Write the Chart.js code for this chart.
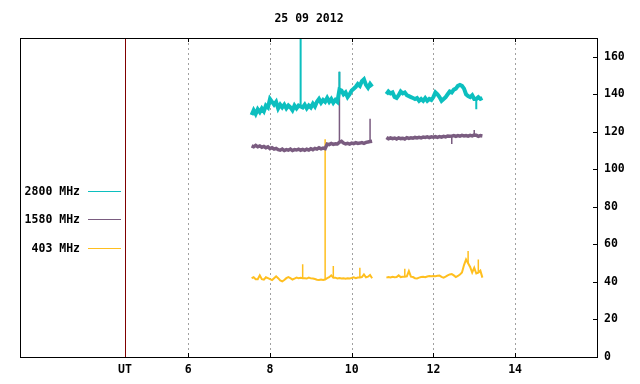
<!DOCTYPE html>
<html lang="en">
<head>
  <meta charset="UTF-8" />
  <title>25 09 2012</title>
  <style>
    body { margin: 0; background: #fff; }
    #chart { display: block; }
  </style>
</head>
<body>
  <canvas id="chart" width="640" height="384"></canvas>

  <script src="https://cdn.jsdelivr.net/npm/chart.js"></script>
  <script>
    // UT hours of the two observing runs
    const hours1 = [7.55, 7.6, 7.65, 7.7, 7.75, 7.8, 7.85, 7.9, 7.95, 8.0,
      8.05, 8.1, 8.15, 8.2, 8.25, 8.3, 8.35, 8.4, 8.45, 8.5,
      8.55, 8.6, 8.65, 8.7, 8.75, 8.8, 8.85, 8.9, 8.95, 9.0,
      9.05, 9.1, 9.15, 9.2, 9.25, 9.3, 9.35, 9.4, 9.45, 9.5,
      9.55, 9.6, 9.65, 9.7, 9.75, 9.8, 9.85, 9.9, 9.95, 10.0,
      10.05, 10.1, 10.15, 10.2, 10.25, 10.3, 10.35, 10.4, 10.45, 10.5];
    const hours2 = [10.85, 10.9, 10.95, 11.0,
      11.05, 11.1, 11.15, 11.2, 11.25, 11.3, 11.35, 11.4, 11.45, 11.5,
      11.55, 11.6, 11.65, 11.7, 11.75, 11.8, 11.85, 11.9, 11.95, 12.0,
      12.05, 12.1, 12.15, 12.2, 12.25, 12.3, 12.35, 12.4, 12.45, 12.5,
      12.55, 12.6, 12.65, 12.7, 12.75, 12.8, 12.85, 12.9, 12.95, 13.0,
      13.05, 13.1, 13.15, 13.2];
    const gapHour = 10.7;

    // 2800 MHz
    const f2800a = [129, 131.5, 129.5, 132, 130.5, 132.5, 131, 134, 133, 137.5,
      136, 134.5, 136, 132.5, 134.5, 133, 134.5, 132.5, 134, 133,
      131.5, 134, 132.5, 134, 133.5, 133, 134.5, 132.5, 134, 133,
      135, 133.5, 136, 137.5, 135.5, 137, 136, 138, 136, 137.5,
      135.5, 137, 136, 142.5, 142, 140, 141, 138.5, 140, 142,
      143, 144, 145.5, 144.5, 147, 148, 145, 143.5, 145.5, 144];
    const f2800b = [140, 141.5, 140.5, 141,
      138.5, 138, 139.5, 141.5, 140.5, 141, 139.5, 139, 138.5, 138,
      137.5, 138, 136.5, 137.5, 136.5, 138, 136.5, 137.5, 137, 138.5,
      141, 140, 138.5, 136.5, 137.5, 138.5, 140, 141.5, 141, 142.5,
      143, 144.5, 145, 144.5, 143, 140, 139, 138.5, 139.5, 137.5,
      137.5, 138.5, 137.5, 138];
    const spikeHours2800 = [8.75, 9.7, 13.05];
    const spikeTops2800 = [200, 152, 132];

    // 1580 MHz
    const f1580a = [112.5, 112, 112.8, 112, 112.5, 111.8, 112.2, 111.5, 112, 111,
      111.5, 110.8, 111.2, 110.5, 110.2, 110.8, 110, 110.5, 110.2, 110.8,
      110, 110.5, 110.3, 110.8, 110.2, 110.6, 110.1, 110.7, 110.3, 111,
      110.5, 111.2, 110.8, 111.5, 110.9, 111.3, 111, 113.5, 113.2, 113.8,
      113.3, 113.6, 113.5, 114.5, 115, 114, 113.6, 113.9, 113.5, 114,
      113.7, 114.2, 113.8, 114, 114.3, 113.9, 114.4, 114.6, 114.8, 115];
    const f1580b = [117, 116.3, 116.8, 116.4,
      116.7, 116.2, 116.8, 116.4, 116.6, 116.2, 116.9, 116.5, 116.8, 116.6,
      117, 116.7, 117.1, 116.8, 117.2, 117, 117.3, 116.9, 117.3, 117.1,
      117.4, 117, 117.5, 117.2, 117.6, 117.3, 117.8, 117.6, 117.7, 118,
      117.6, 118, 117.7, 118.1, 117.8, 118, 117.7, 118.1, 117.8, 118.3,
      118.2, 117.6, 118, 117.8];
    const spikeHours1580 = [9.7, 10.45, 12.45, 13.0];
    const spikeTops1580 = [152, 127, 113.5, 121];

    // 403 MHz
    const f403a = [42, 42.5, 41.5, 41.5, 43.5, 41.5, 41.2, 42.5, 42, 41.5,
      41, 42, 43, 42, 40.8, 40.3, 41, 42, 42.6, 42,
      41.3, 41.8, 42.3, 42, 42.2, 42, 42, 41.8, 42.3, 41.9,
      41.8, 41.6, 41.2, 41.1, 41.3, 41.1, 41.3, 42, 42.5, 43.5,
      42.3, 42.3, 41.9, 42.1, 41.8, 42, 41.7, 42, 41.8, 42.1,
      42.5, 42, 42.4, 42.4, 42.6, 44, 42.5, 42.8, 43.7, 42];
    const f403b = [42.3, 42.6, 42.4, 42.7,
      42.5, 42.6, 43.5, 42.6, 42.8, 42.8, 43, 45.8, 42.8, 42.6,
      42, 41.9, 42.3, 42.6, 42.8, 42.5, 42.9, 43.1, 43, 43.2,
      43, 43.3, 43.4, 42.7, 42.3, 42.8, 43.5, 44, 44.2, 43.5,
      42.6, 43.2, 44, 45, 49, 52, 50, 48, 45, 47.6,
      44.5, 45, 46, 42.3];
    const spikeHours403 = [8.8, 9.35, 9.55, 10.2, 11.3, 12.85, 13.1];
    const spikeTops403 = [49.4, 116, 48.5, 47.6, 47, 56.5, 52];

    const xTicks = [6, 8, 10, 12, 14];
    const yTicks = [0, 20, 40, 60, 80, 100, 120, 140, 160];
    const utHour = 4.45;

    const FONT = 'bold 11.5px "DejaVu Sans Mono", monospace';

    function toPoints(va, vb) {
      return hours1.map((h, i) => ({ x: h, y: va[i] }))
        .concat([{ x: gapHour, y: null }])
        .concat(hours2.map((h, i) => ({ x: h, y: vb[i] })));
    }

    // vertical spikes rising (or dipping) from the band value at that hour
    function toSpikes(points, hours, tops) {
      const out = [];
      hours.forEach((h, i) => {
        const base = points.find(p => Math.abs(p.x - h) < 1e-6).y;
        out.push({ x: h, y: base }, { x: h, y: tops[i] }, { x: h, y: null });
      });
      return out;
    }

    const series = [
      { label: '2800 MHz', color: '#0cbfbf', width: 4, spikeWidth: 2, values: [f2800a, f2800b], spikes: [spikeHours2800, spikeTops2800] },
      { label: '1580 MHz', color: '#7a5c80', width: 3.5, spikeWidth: 1.5, values: [f1580a, f1580b], spikes: [spikeHours1580, spikeTops1580] },
      { label: '403 MHz', color: '#ffbf1f', width: 2, spikeWidth: 1.5, values: [f403a, f403b], spikes: [spikeHours403, spikeTops403] }
    ];

    const datasets = [];
    series.forEach(s => {
      const pts = toPoints(s.values[0], s.values[1]);
      datasets.push({ data: pts, borderColor: s.color, borderWidth: s.width, pointRadius: 0, spanGaps: false });
      datasets.push({ data: toSpikes(pts, s.spikes[0], s.spikes[1]), borderColor: s.color, borderWidth: s.spikeWidth, pointRadius: 0, spanGaps: false });
    });

    // gnuplot-like frame, grid, title and key
    const frame = {
      id: 'frame',
      beforeDatasetsDraw(chart) {
        const { ctx, chartArea: a, scales: { x } } = chart;
        ctx.save();
        ctx.lineWidth = 1;
        ctx.strokeStyle = '#a0a0a0';
        ctx.setLineDash([2, 3]);
        xTicks.forEach(h => {
          const px = Math.round(x.getPixelForValue(h)) + 0.5;
          ctx.beginPath(); ctx.moveTo(px, a.top); ctx.lineTo(px, a.bottom); ctx.stroke();
        });
        ctx.setLineDash([]);
        ctx.strokeStyle = '#800000';
        const ut = Math.round(x.getPixelForValue(utHour)) + 0.5;
        ctx.beginPath(); ctx.moveTo(ut, a.top); ctx.lineTo(ut, a.bottom); ctx.stroke();
        ctx.restore();
      },
      afterDatasetsDraw(chart) {
        const { ctx, chartArea: a, scales: { x, y } } = chart;
        ctx.save();
        ctx.lineWidth = 1;
        ctx.strokeStyle = '#000';
        ctx.strokeRect(a.left + 0.5, a.top + 0.5, a.right - a.left - 1, a.bottom - a.top);
        ctx.beginPath();
        xTicks.forEach(h => {
          const px = Math.round(x.getPixelForValue(h)) + 0.5;
          ctx.moveTo(px, a.bottom); ctx.lineTo(px, a.bottom - 4);
          ctx.moveTo(px, a.top); ctx.lineTo(px, a.top + 4);
        });
        yTicks.forEach(v => {
          const py = Math.round(y.getPixelForValue(v)) + 0.5;
          ctx.moveTo(a.right, py); ctx.lineTo(a.right - 5, py);
        });
        ctx.stroke();

        ctx.font = FONT;
        ctx.fillStyle = '#000';
        ctx.textAlign = 'center';
        ctx.textBaseline = 'middle';
        ctx.fillText('25 09 2012', (a.left + a.right) / 2, 19);

        const keyY = [191, 219, 248];
        series.forEach((s, i) => {
          ctx.textAlign = 'right';
          ctx.fillStyle = '#000';
          ctx.fillText(s.label, 80, keyY[i] + 1);
          ctx.strokeStyle = s.color;
          ctx.beginPath();
          ctx.moveTo(88, keyY[i] + 0.5); ctx.lineTo(121, keyY[i] + 0.5);
          ctx.stroke();
        });
        ctx.restore();
      }
    };

    new Chart(document.getElementById('chart'), {
      type: 'line',
      data: { datasets: datasets },
      options: {
        responsive: false,
        animation: false,
        layout: { padding: { top: 38, left: 20, right: 0, bottom: 0 } },
        plugins: { legend: { display: false }, title: { display: false }, tooltip: { enabled: false } },
        scales: {
          x: {
            type: 'linear',
            min: 1.88,
            max: 16.03,
            grid: { display: false, drawTicks: false },
            border: { display: false },
            afterBuildTicks: s => { s.ticks = [utHour].concat(xTicks).map(v => ({ value: v })); },
            afterFit: s => { s.height = 27; },
            ticks: {
              autoSkip: false,
              maxRotation: 0,
              padding: 6,
              color: '#000',
              font: { family: '"DejaVu Sans Mono", monospace', size: 11.5, weight: 'bold' },
              callback: v => v === utHour ? 'UT' : v
            }
          },
          y: {
            position: 'right',
            min: 0,
            max: 170,
            grid: { display: false, drawTicks: false },
            border: { display: false },
            afterBuildTicks: s => { s.ticks = yTicks.map(v => ({ value: v })); },
            afterFit: s => { s.width = 42; },
            ticks: {
              padding: 6,
              color: '#000',
              font: { family: '"DejaVu Sans Mono", monospace', size: 11.5, weight: 'bold' }
            }
          }
        }
      },
      plugins: [frame]
    });
  </script>
</body>
</html>
